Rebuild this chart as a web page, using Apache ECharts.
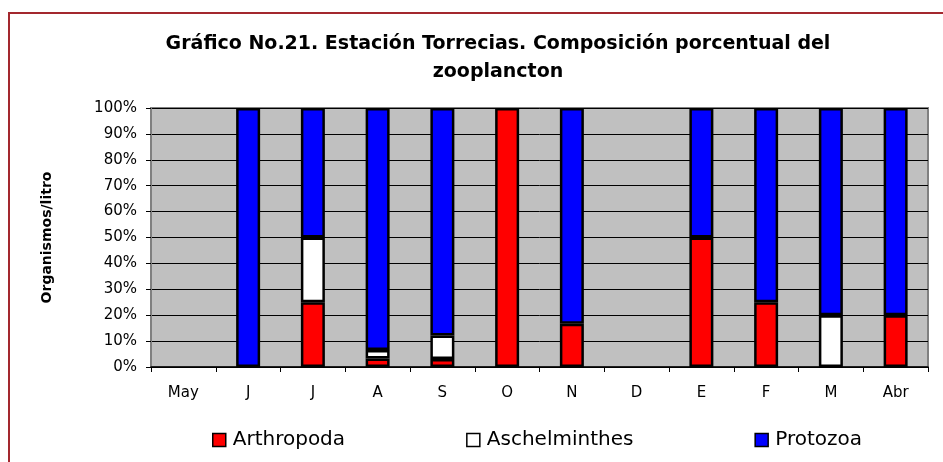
<!DOCTYPE html>
<html>
<head>
<meta charset="utf-8">
<script src="https://cdn.jsdelivr.net/npm/echarts@6/dist/echarts.min.js"></script>
<style>
  html, body { margin: 0; padding: 0; background: #fff; }
  #chart { width: 943px; height: 462px; }
</style>
</head>
<body>
<div id="chart"></div>
<script>
const categories = ['May', 'J', 'J', 'A', 'S', 'O', 'N', 'D', 'E', 'F', 'M', 'Abr'];
const arthropoda = [null, null, 25, 3.3, 3.1, 100, 16.7, null, 50, 25, null, 20];
const aschelminthes = [null, null, 25, 3.3, 9.1, null, null, null, null, null, 20, null];
const protozoa = [null, 100, 50, 93.4, 87.8, null, 83.3, null, 50, 75, 80, 80];
const yTicks = { min: 0, max: 100, interval: 10 };

const FONT = 'DejaVu Sans';
const chart = echarts.init(document.getElementById('chart'), null, { renderer: 'canvas' });

function barSeries(name, data, color) {
  return {
    name: name,
    type: 'bar',
    stack: 'total',
    data: data,
    barWidth: 24,
    itemStyle: { color: color, borderColor: '#000', borderWidth: 2.5 },
    emphasis: { disabled: true }
  };
}

chart.setOption({
  animation: false,
  backgroundColor: '#fff',
  title: {
    text: 'Gráfico No.21. Estación Torrecias. Composición porcentual del\nzooplancton',
    left: 493,
    top: 25,
    textAlign: 'center',
    textStyle: { fontFamily: FONT, fontSize: 19, fontWeight: 'bold', color: '#000', lineHeight: 28 }
  },
  graphic: [{
    type: 'rect',
    silent: true,
    shape: { x: 9, y: 13, width: 1000, height: 600 },
    style: { fill: null, stroke: '#A3282E', lineWidth: 2 }
  }],
  legend: {
    left: 207,
    top: 425,
    itemGap: 121,
    itemWidth: 13,
    itemHeight: 13,
    icon: 'rect',
    selectedMode: false,
    textStyle: { fontFamily: FONT, fontSize: 20, color: '#000', padding: [0, 0, 0, 2] },
    itemStyle: { borderColor: '#000', borderWidth: 1.5 },
    data: ['Arthropoda', 'Aschelminthes', 'Protozoa']
  },
  grid: {
    left: 151, right: 15, top: 108, bottom: 95,
    show: true,
    backgroundColor: '#C0C0C0',
    borderColor: '#808080',
    borderWidth: 2
  },
  xAxis: {
    type: 'category',
    data: categories,
    axisLine: { show: true, lineStyle: { color: '#000', width: 1.5 } },
    axisTick: { show: true, length: 5, lineStyle: { color: '#000', width: 1 } },
    axisLabel: { fontFamily: FONT, fontSize: 15, color: '#000', margin: 19, interval: 0 },
    splitLine: { show: false }
  },
  yAxis: {
    type: 'value',
    min: yTicks.min,
    max: yTicks.max,
    interval: yTicks.interval,
    name: 'Organismos/litro',
    nameLocation: 'middle',
    nameGap: 97,
    nameRotate: 90,
    nameTextStyle: { fontFamily: FONT, fontSize: 14, fontWeight: 'bold', color: '#000' },
    axisLine: { show: true, lineStyle: { color: '#808080', width: 2 } },
    axisTick: { show: true, length: 5, lineStyle: { color: '#000', width: 1 } },
    axisLabel: { fontFamily: FONT, fontSize: 15, color: '#000', margin: 14, formatter: '{value}%' },
    splitLine: { show: true, lineStyle: { color: '#000', width: 1 } }
  },
  series: [
    barSeries('Arthropoda', arthropoda, '#FF0000'),
    barSeries('Aschelminthes', aschelminthes, '#FFFFFF'),
    barSeries('Protozoa', protozoa, '#0000FF')
  ]
});
</script>
</body>
</html>
